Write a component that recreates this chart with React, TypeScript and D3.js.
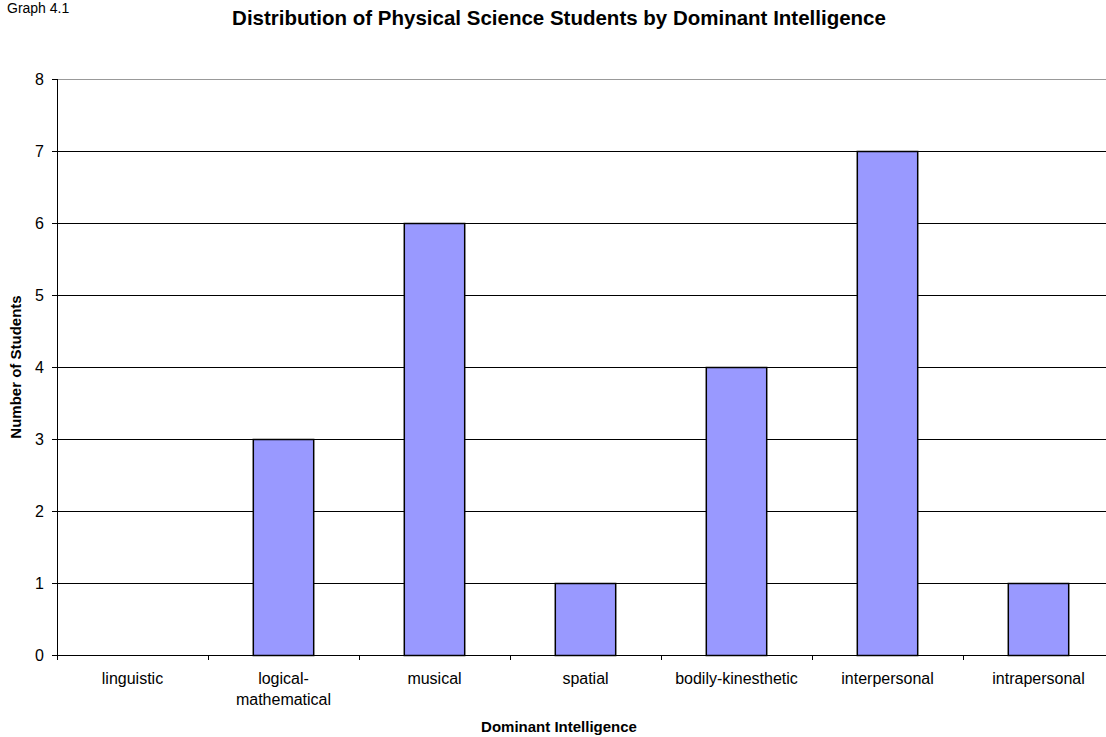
import React from "react";
import * as d3 from "d3";

const categories: string[][] = [
  ["linguistic"],
  ["logical-", "mathematical"],
  ["musical"],
  ["spatial"],
  ["bodily-kinesthetic"],
  ["interpersonal"],
  ["intrapersonal"],
];
const values: number[] = [0, 3, 6, 1, 4, 7, 1];
const yTicks: number[] = [0, 1, 2, 3, 4, 5, 6, 7, 8];

export default function App() {
  const W = 1106, H = 737;
  const left = 57, right = 1114, top = 79, bottom = 655;
  const keys = categories.map((_, i) => String(i));
  const x = d3.scaleBand<string>().domain(keys).range([left, right]).paddingInner(0).paddingOuter(0);
  const y = d3.scaleLinear().domain([0, 8]).range([bottom, top]);
  const bw = x.bandwidth() * 0.4;
  const font = "Arial, 'Liberation Sans', sans-serif";
  return (
    <svg width={W} height={H} style={{ position: "absolute", left: 0, top: 0, background: "#fff" }} fontFamily={font}>
      <text x={7} y={13} fontSize={14}>Graph 4.1</text>
      <text x={559} y={25} fontSize={20.5} fontWeight="bold" textAnchor="middle">
        Distribution of Physical Science Students by Dominant Intelligence
      </text>
      {yTicks.map((t) => (
        <g key={t}>
          <line x1={left} x2={right} y1={y(t) + 0.5} y2={y(t) + 0.5} stroke={t === 8 ? "#999" : "#000"} strokeWidth={1} />
          <line x1={left - 5} x2={left} y1={y(t) + 0.5} y2={y(t) + 0.5} stroke="#000" />
          <text x={left - 13} y={y(t) + 6} fontSize={16} textAnchor="end">{t}</text>
        </g>
      ))}
      {values.map((v, i) => {
        const cx = (x(String(i)) as number) + x.bandwidth() / 2;
        if (v <= 0) return null;
        return (
          <rect key={i} x={cx - bw / 2} y={y(v) + 0.5} width={bw} height={y(0) - y(v)} fill="#9999FF" stroke="#000" strokeWidth={1.5} />
        );
      })}
      <line x1={left + 0.5} x2={left + 0.5} y1={top} y2={bottom} stroke="#000" />
      <line x1={left} x2={right} y1={bottom + 0.5} y2={bottom + 0.5} stroke="#000" />
      {keys.concat(["7"]).map((k, i) => {
        const xx = left + i * x.bandwidth();
        return <line key={k} x1={xx + 0.5} x2={xx + 0.5} y1={bottom} y2={bottom + 5} stroke="#000" />;
      })}
      {categories.map((lines, i) => {
        const cx = (x(String(i)) as number) + x.bandwidth() / 2;
        return (
          <text key={i} x={cx} y={684} fontSize={16} textAnchor="middle">
            {lines.map((l, j) => (
              <tspan key={j} x={cx} dy={j === 0 ? 0 : 21}>{l}</tspan>
            ))}
          </text>
        );
      })}
      <text x={559} y={732} fontSize={15} fontWeight="bold" textAnchor="middle">Dominant Intelligence</text>
      <text transform={`translate(21,${(top + bottom) / 2}) rotate(-90)`} fontSize={15} fontWeight="bold" textAnchor="middle">
        Number of Students
      </text>
    </svg>
  );
}
